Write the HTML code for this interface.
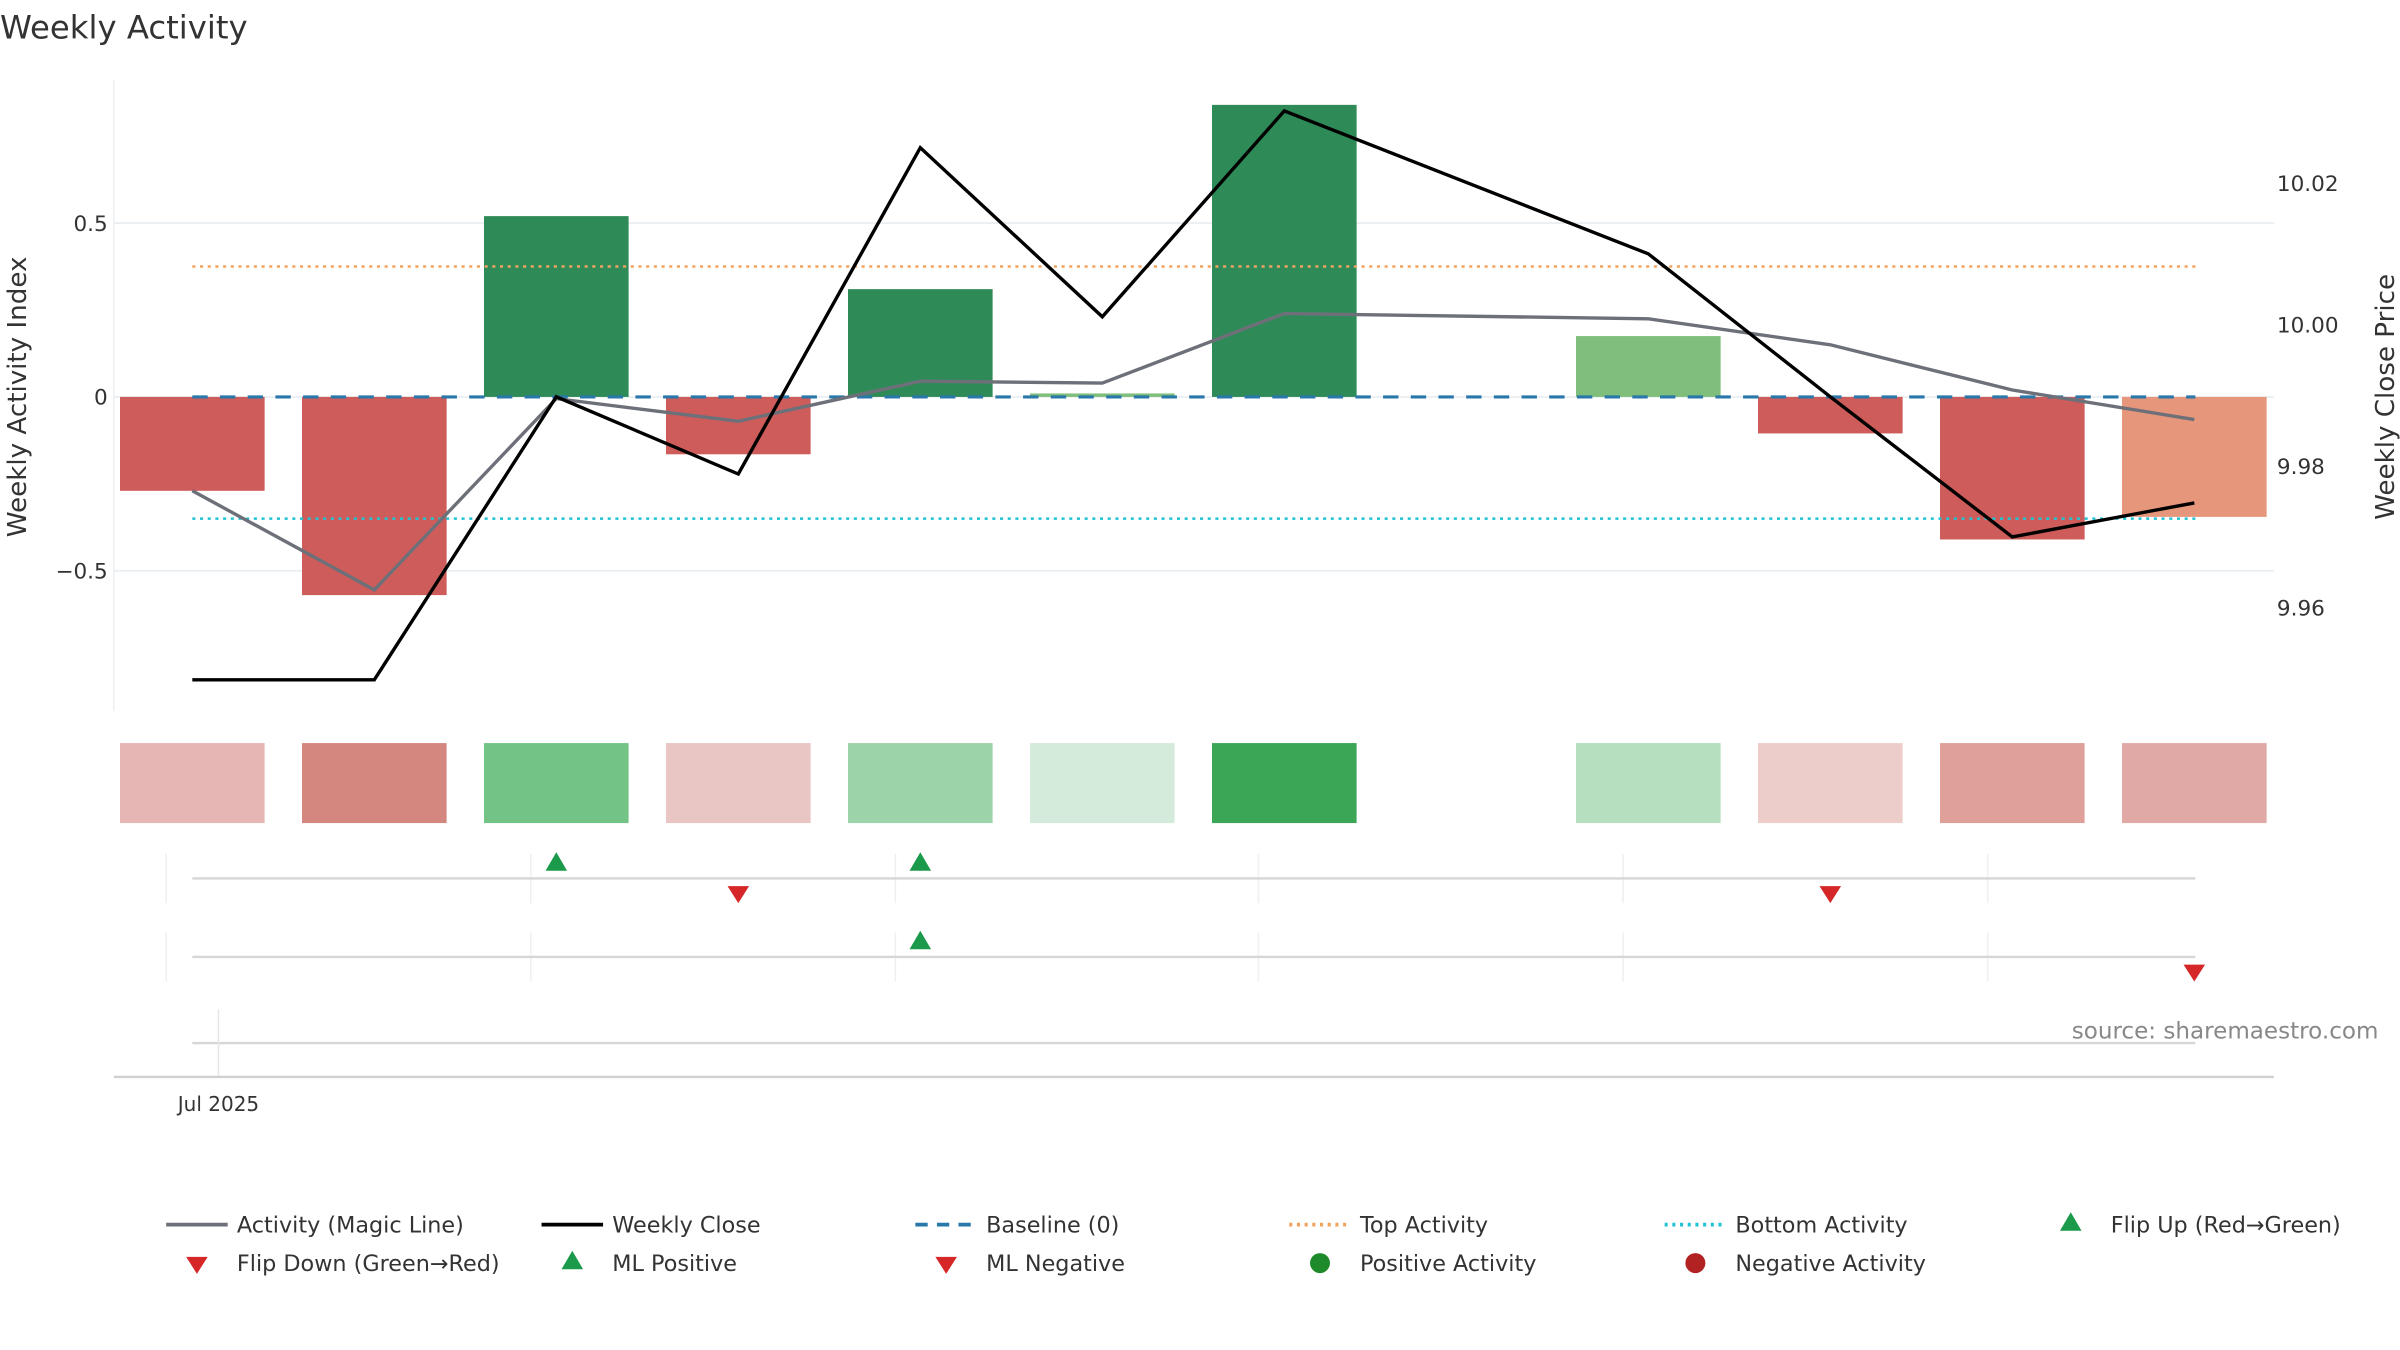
<!DOCTYPE html>
<html><head><meta charset="utf-8"><style>
html,body{margin:0;padding:0;background:#fff;}
svg{display:block;font-family:"DejaVu Sans","Liberation Sans",sans-serif;}
</style></head><body>
<svg id="chart" width="2400" height="1350" viewBox="0 0 1560 877.5" xmlns="http://www.w3.org/2000/svg">
<text x="0" y="25" font-size="21" fill="#333">Weekly Activity</text>
<g id="main"></g>
</svg>
<script>
const categories = ['W1','W2','W3','W4','W5','W6','W7','W8','W9','W10','W11','W12'];
const activity = [-0.27,-0.57,0.52,-0.165,0.31,0.01,0.84,null,0.175,-0.105,-0.41,-0.345];
const barColors = ['#cd5c5a','#cd5c5a','#2e8b57','#cd5c5a','#2e8b57','#7fbf7b','#2e8b57',null,'#7fbf7b','#cd5c5a','#cd5c5a','#e6967a'];
const magicLine = [-0.27,-0.555,-0.005,-0.07,0.045,0.04,0.24,null,0.225,0.15,0.02,-0.065];
const weeklyClose = [9.9498,9.9498,9.9898,9.9789,10.025,10.0011,10.0302,null,10.010,9.9898,9.970,9.9748];
const heatColors = ['#e6b6b4','#d4877f','#74c386','#e9c6c3','#9dd3a8','#d4eada','#3aa656',null,'#b5dfbf','#edcdca','#dfa099','#e0a9a5'];
const leftTicks = [0.5,0,-0.5];
const leftTickLabels = ['0.5','0','\u22120.5'];
const rightTicks = [10.02,10.00,9.98,9.96];
const rightTickLabels = ['10.02','10.00','9.98','9.96'];
const topActivity = 0.375, bottomActivity = -0.35;
const flipUp = [2,4];
const flipDown = [3,9];
const mlPositive = [4];
const mlNegative = [11];

const NS='http://www.w3.org/2000/svg';
const g=document.getElementById('main');
function mk(tag,attrs,parent){const e=document.createElementNS(NS,tag);for(const k in attrs)e.setAttribute(k,attrs[k]);(parent||g).appendChild(e);return e;}
const xs=i=>125+i*118.3;
const yL=v=>258-v*226;
const yR=p=>211-(p-10.0)*4600;

leftTicks.forEach((t,i)=>{
  const l=mk('line',{x1:74,x2:1478,y1:yL(t),y2:yL(t),stroke:'#eceff2','stroke-width':1.2});
  
  const tx=mk('text',{x:70,y:yL(t)+5,'font-size':14,'text-anchor':'end',fill:'#333'});tx.textContent=leftTickLabels[i];
  
});
rightTicks.forEach((t,i)=>{
  const tx=mk('text',{x:1480,y:yR(t)+5,'font-size':14,fill:'#333'});tx.textContent=rightTickLabels[i];
  
});
let ax=mk('line',{x1:74,x2:74,y1:52,y2:462,stroke:'#eceff2'});

let yt=mk('text',{transform:'translate(17,258) rotate(-90)','font-size':17,'text-anchor':'middle',fill:'#333'});yt.textContent='Weekly Activity Index';

let yt2=mk('text',{transform:'translate(1556,258) rotate(-90)','font-size':17,'text-anchor':'middle',fill:'#333'});yt2.textContent='Weekly Close Price';


activity.forEach((v,i)=>{
  if(v===null)return;
  const y0=yL(0),y1=yL(v);
  const r=mk('rect',{x:xs(i)-47,width:94,y:Math.min(y0,y1),height:Math.max(Math.abs(y1-y0),2),fill:barColors[i]});
  
});
let l1=mk('line',{x1:125,x2:1427,y1:yL(topActivity),y2:yL(topActivity),stroke:'#f0a35e','stroke-width':1.6,'stroke-dasharray':'2,3'});

let l2=mk('line',{x1:125,x2:1427,y1:yL(bottomActivity),y2:yL(bottomActivity),stroke:'#22c4d4','stroke-width':1.6,'stroke-dasharray':'2,3'});

let l3=mk('line',{x1:125,x2:1427,y1:yL(0),y2:yL(0),stroke:'#2a77aa','stroke-width':2,'stroke-dasharray':'10,8'});

function poly(arr,fy){return arr.map((v,i)=>v===null?null:xs(i).toFixed(1)+','+fy(v).toFixed(1)).filter(Boolean).join(' ');}
let ml=mk('polyline',{points:poly(magicLine,yL),fill:'none',stroke:'#6e7079','stroke-width':2.2});

let wc=mk('polyline',{points:poly(weeklyClose,yR),fill:'none',stroke:'#000','stroke-width':2.2});


heatColors.forEach((c,i)=>{
  if(!c)return;
  const r=mk('rect',{x:xs(i)-47,width:94,y:483,height:52,fill:c});
  
});
[108,345,582,818,1055,1292].forEach(x=>{
  const a=mk('line',{x1:x,x2:x,y1:555,y2:587,stroke:'#eef0f2'});
  const b=mk('line',{x1:x,x2:x,y1:606,y2:638,stroke:'#eef0f2'});
});
[571,622,678].forEach(y=>{const l=mk('line',{x1:125,x2:1427,y1:y,y2:y,stroke:'#d6d6d6','stroke-width':1.5});});
let v3=mk('line',{x1:142,x2:142,y1:656,y2:700,stroke:'#e6e6e6'});
function up(x,y,c){return mk('polygon',{points:`${x-7},${y+6} ${x+7},${y+6} ${x},${y-6}`,fill:c});}
function down(x,y,c){return mk('polygon',{points:`${x-7},${y-5} ${x+7},${y-5} ${x},${y+6}`,fill:c});}
flipUp.forEach(i=>{const m=up(xs(i),560,'#1a9a4a');});
flipDown.forEach(i=>{const m=down(xs(i),581,'#d62728');});
mlPositive.forEach(i=>{const m=up(xs(i),611,'#1a9a4a');});
mlNegative.forEach(i=>{const m=down(xs(i),632,'#d62728');});
let bx=mk('line',{x1:74,x2:1478,y1:700,y2:700,stroke:'#d0d0d0','stroke-width':1.5});
let xl=mk('text',{x:142,y:722,'font-size':13,'text-anchor':'middle',fill:'#333'});xl.textContent='Jul 2025';

let src=mk('text',{x:1546,y:675,'font-size':15,'text-anchor':'end',fill:'#888'});src.textContent='source: sharemaestro.com';


const legend=[
 [108,796,'line','#6e7079','','Activity (Magic Line)'],
 [352,796,'line','#000','','Weekly Close'],
 [595,796,'line','#2a77aa','8,6','Baseline (0)'],
 [838,796,'line','#f0a35e','2,3','Top Activity'],
 [1082,796,'line','#22c4d4','2,3','Bottom Activity'],
 [1326,796,'up','#1a9a4a','','Flip Up (Red\u2192Green)'],
 [108,821,'down','#d62728','','Flip Down (Green\u2192Red)'],
 [352,821,'up','#1a9a4a','','ML Positive'],
 [595,821,'down','#d62728','','ML Negative'],
 [838,821,'dot','#1f8a2a','','Positive Activity'],
 [1082,821,'dot','#b22222','','Negative Activity']];
legend.forEach(([x,y,t,c,d,label])=>{
  const grp=mk('g',{});
  
  if(t==='line'){const a={x1:x,x2:x+40,y1:y,y2:y,stroke:c,'stroke-width':2.5};if(d)a['stroke-dasharray']=d;mk('line',a,grp);}
  else if(t==='up')mk('polygon',{points:`${x+13},${y+4} ${x+27},${y+4} ${x+20},${y-8}`,fill:c},grp);
  else if(t==='down')mk('polygon',{points:`${x+13},${y-4} ${x+27},${y-4} ${x+20},${y+7}`,fill:c},grp);
  else mk('circle',{cx:x+20,cy:y,r:6.5,fill:c},grp);
  const tx=mk('text',{x:x+46,y:y+5,'font-size':14.5,fill:'#333'},grp);tx.textContent=label;
});
</script>
</body></html>
